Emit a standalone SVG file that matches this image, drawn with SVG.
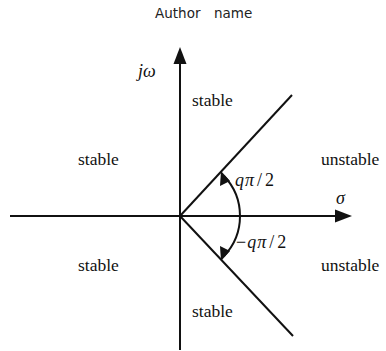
<svg xmlns="http://www.w3.org/2000/svg" width="386" height="351" viewBox="0 0 386 351">
<style>
.ax{stroke:#111;stroke-width:2;fill:none}
.ln{stroke:#111;stroke-width:2;fill:none}
.lbl{font-family:"Liberation Serif","Times New Roman",serif;font-size:17.5px;fill:#111}
.m{font-family:"Liberation Serif","Times New Roman",serif;font-size:18px;fill:#111}
.it{font-style:italic}
.title{font-family:"DejaVu Sans",sans-serif;font-size:13.5px;fill:#222}
</style>
<rect width="386" height="351" fill="#fff"/>
<g id="title"><text class="title" x="155" y="18">Author<tspan x="214">name</tspan></text></g>
<g id="connectors">
<line class="ax" x1="180" y1="350" x2="180" y2="62"/>
<path d="M173.5,64 L180,47 L186.5,64 Z" fill="#111"/>
<line class="ax" x1="10" y1="216" x2="337" y2="216"/>
<path d="M335,209.5 L352,216 L335,222.5 Z" fill="#111"/>
<line class="ln" x1="180" y1="216" x2="292" y2="95"/>
<line class="ln" x1="180" y1="216" x2="293" y2="336"/>
<path class="ln" d="M224,176 A58,58 0 0 1 224,256" stroke-width="1.6"/>
<path d="M221,171 L230,181 L220,186 Z" fill="#111"/>
<path d="M221,261 L230,251 L220,246 Z" fill="#111"/>
</g>
<g id="labels">
<text class="m it" x="138" y="77">jω</text>
<text class="lbl" x="192" y="106">stable</text>
<text class="lbl" x="78" y="165">stable</text>
<text class="lbl" x="321" y="165">unstable</text>
<text class="lbl" x="78" y="271">stable</text>
<text class="lbl" x="321" y="271">unstable</text>
<text class="lbl" x="192" y="317">stable</text>
<text class="m" x="235" y="186"><tspan class="it">q</tspan><tspan class="it" dx="1">π</tspan><tspan dx="3">/</tspan><tspan dx="3">2</tspan></text>
<text class="m" x="236" y="248">−<tspan class="it" dx="1">q</tspan><tspan class="it" dx="1">π</tspan><tspan dx="3">/</tspan><tspan dx="3">2</tspan></text>
<text class="m it" x="336" y="204">σ</text>
</g>
</svg>
